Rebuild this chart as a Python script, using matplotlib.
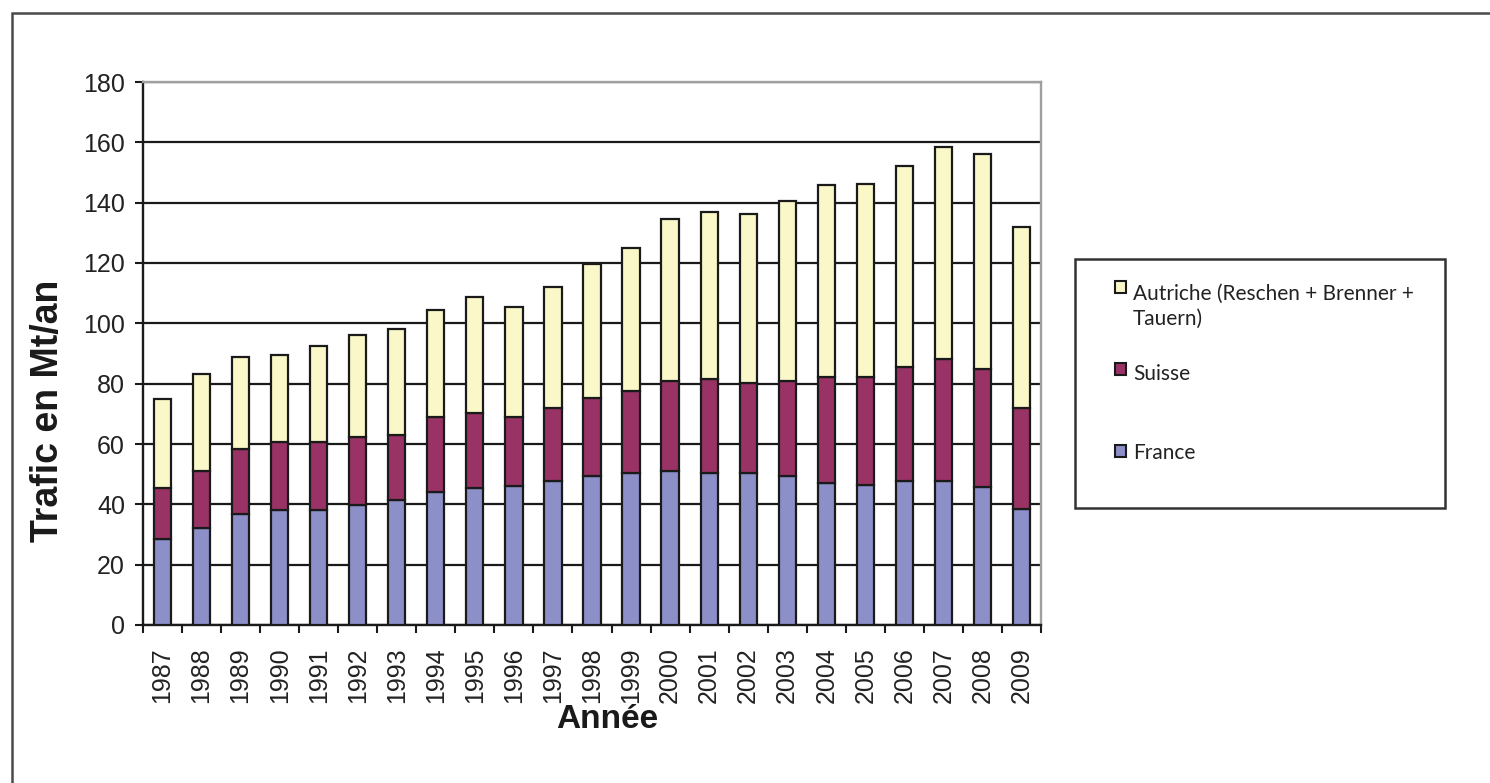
import matplotlib
matplotlib.use("Agg")
import matplotlib.pyplot as plt
from matplotlib.patches import Rectangle
import numpy as np

# Trafic transalpin de marchandises (Mt/an)
annees = ["1987", "1988", "1989", "1990", "1991", "1992", "1993", "1994",
          "1995", "1996", "1997", "1998", "1999", "2000", "2001", "2002",
          "2003", "2004", "2005", "2006", "2007", "2008", "2009"]
france = [28.6, 32.0, 36.7, 38.2, 38.2, 39.8, 41.4, 44.0, 45.5, 46.2, 47.7,
          49.5, 50.3, 51.2, 50.3, 50.3, 49.5, 47.1, 46.4, 47.8, 47.8, 45.6, 38.5]
suisse = [16.8, 19.0, 21.6, 22.3, 22.3, 22.4, 21.7, 24.8, 24.8, 22.6, 24.2,
          25.6, 27.3, 29.7, 31.1, 29.8, 31.4, 35.2, 35.9, 37.8, 40.4, 39.2, 33.5]
autriche = [29.6, 32.2, 30.4, 29.0, 32.1, 33.8, 35.0, 35.7, 38.4, 36.7, 40.1,
            44.7, 47.3, 53.6, 55.6, 56.1, 59.8, 63.4, 64.0, 66.5, 70.1, 71.2, 59.8]

series_labels = ["France", "Suisse", "Autriche (Reschen + Brenner +\nTauern)"]
series_colors = ["#8C8FC8", "#993366", "#FAF8C8"]

W, H = 1490, 783
plt.rcParams["font.family"] = ["Liberation Sans", "DejaVu Sans"]
fig = plt.figure(figsize=(W / 100, H / 100), dpi=100)


def fx(px):
    return px / W


def fy(py):
    return 1 - py / H


# outer frame of the figure (only top and left edges fall inside the image)
fig.patches.append(Rectangle((fx(12), fy(800)), fx(1500) - fx(12), fy(13) - fy(800),
                             transform=fig.transFigure, fill=False,
                             edgecolor="#4a4a4a", linewidth=1.8, zorder=0))

ax = fig.add_axes([fx(143), fy(625), fx(1041) - fx(143), fy(82) - fy(625)])

x = np.arange(len(annees))
bottom = np.zeros(len(annees))
for vals, lab, col in zip([france, suisse, autriche], series_labels, series_colors):
    ax.bar(x, vals, width=0.44, bottom=bottom, color=col, edgecolor="#1a1a1a",
           linewidth=1.6, label=lab, zorder=3)
    bottom += np.array(vals)

ax.set_xlim(-0.5, len(annees) - 0.5)
ax.set_ylim(0, 180)
ax.set_yticks(np.arange(0, 181, 20))
ax.yaxis.grid(True, color="#1a1a1a", linewidth=1.6, zorder=1)
ax.set_axisbelow(True)

ax.set_xticks(x)
ax.set_xticklabels(annees, rotation=90, fontsize=18, color="#222222")
ax.set_xticks(np.arange(-0.5, len(annees), 1), minor=True)
ax.tick_params(axis="x", which="major", length=0, pad=16)
ax.tick_params(axis="x", which="minor", length=6, width=1.5, direction="out", color="#1a1a1a")
ax.tick_params(axis="y", length=6, width=1.5, direction="out", pad=7,
               labelsize=18, labelcolor="#222222", color="#1a1a1a")

for side in ["left", "bottom"]:
    ax.spines[side].set_color("#1a1a1a")
    ax.spines[side].set_linewidth(1.7)
for side in ["top", "right"]:
    ax.spines[side].set_color("#a0a0a0")
    ax.spines[side].set_linewidth(1.7)

ax.set_ylabel("Trafic en Mt/an", fontsize=27, fontweight="bold", color="#1a1a1a")
ax.yaxis.set_label_coords(-0.086, 0.394)
ax.set_xlabel("Année", fontsize=24, fontweight="bold", color="#1a1a1a")
ax.xaxis.set_label_coords(0.517, -0.146)

# legend box, listed top to bottom as the stack reads
fig.patches.append(Rectangle((fx(1075), fy(508)), fx(1445) - fx(1075), fy(259) - fy(508),
                             transform=fig.transFigure, fill=False,
                             edgecolor="#333333", linewidth=1.8))
legend_rows = [(2, 287, 306), (1, 369, 374), (0, 451, 453)]
for idx, marker_y, text_y in legend_rows:
    fig.patches.append(Rectangle((fx(1115), fy(marker_y + 6)), fx(11), 12 / H,
                                 transform=fig.transFigure,
                                 facecolor=series_colors[idx], edgecolor="#1a1a1a",
                                 linewidth=1.5))
    fig.text(fx(1133), fy(text_y), series_labels[idx], fontsize=15,
             family=["Lato", "DejaVu Sans"], color="#222222",
             ha="left", va="center", linespacing=1.3)

fig.savefig("out.png", dpi=100, facecolor="white")
